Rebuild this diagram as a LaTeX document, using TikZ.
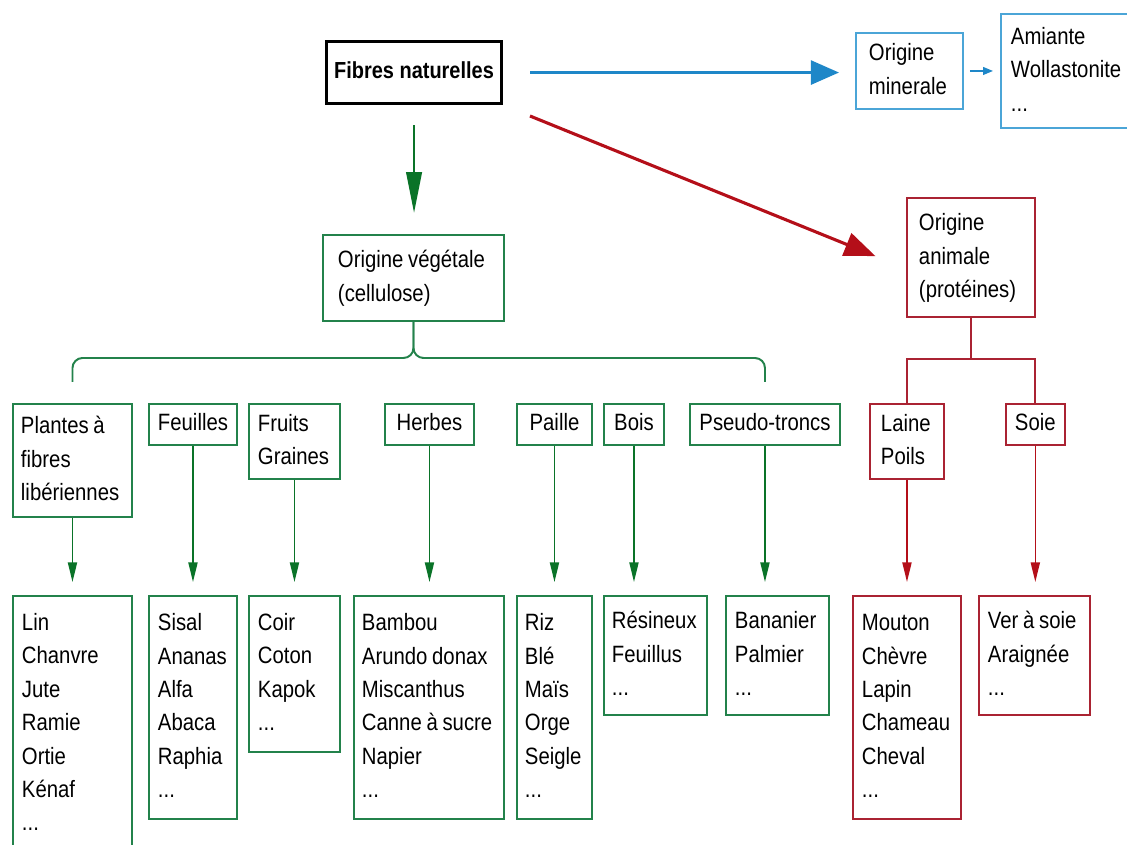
\documentclass[tikz,border=0pt]{standalone}
\usepackage{fontspec}
\setmainfont{Liberation Sans}[FakeStretch=0.86]
\usepackage{tikz}
\usetikzlibrary{arrows.meta,positioning}

\newlength{\pxu}
\setlength{\pxu}{0.025cm}
\newcommand{\boxlist}[1]{\spaceskip=0.2em\relax\begin{tabular}{@{}l@{}}#1\end{tabular}}

\definecolor{boxgreen}{RGB}{35,130,75}
\definecolor{arrgreen}{RGB}{10,115,40}
\definecolor{boxred}{RGB}{170,35,50}
\definecolor{arrred}{RGB}{180,15,25}
\definecolor{boxblue}{RGB}{75,165,215}
\definecolor{arrblue}{RGB}{30,135,200}

\tikzset{
  box/.style={draw, rectangle, anchor=north west, align=left, inner xsep=9\pxu, inner ysep=0pt, line width=1.4pt},
  tw/.style 2 args={text width=#1\pxu, minimum height=#2\pxu},
  cw/.style 2 args={minimum width=#1\pxu, minimum height=#2\pxu, align=center, text height=12.5pt, text depth=3.5pt},
  gbox/.style={box, draw=boxgreen},
  rbox/.style={box, draw=boxred},
  bbox/.style={box, draw=boxblue},
  gline/.style={draw=boxgreen, line width=1.4pt},
  rline/.style={draw=boxred, line width=1.4pt},
  garrow/.style={draw=arrgreen, line width=1.1pt, -{Triangle[length=14pt,width=6.5pt]}, shorten >=13\pxu},
  rarrow/.style={draw=arrred, line width=1.1pt, -{Triangle[length=14pt,width=6.5pt]}, shorten >=13\pxu}
}

\begin{document}
\begin{tikzpicture}[x=0.025cm, y=-0.025cm, font=\fontsize{16.8}{23.74}\selectfont]
    \useasboundingbox (0,0) rectangle (1127,845);
    \clip (0,0) rectangle (1127,845);

    % Root and origins
    \node[box, cw={175}{62}, inner xsep=4\pxu, line width=2.2pt, font=\fontsize{16.5}{23.74}\selectfont\bfseries] (fibres) at (325,40) {Fibres naturelles};
    \node[bbox, tw={81}{76}, inner xsep=13\pxu] (mineral) at (855,32) {\boxlist{Origine\\minerale}};
    \node[bbox, tw={130}{114}, inner xsep=10\pxu] (amiante) at (1000,13) {\boxlist{Amiante\\Wollastonite\\...}};
    \node[gbox, tw={151}{86}, inner xsep=15\pxu] (vege) at (322,234) {\boxlist{Origine végétale\\(cellulose)}};
    \node[rbox, tw={104}{119}, inner xsep=12\pxu] (animal) at (906,197) {\boxlist{Origine\\animale\\(protéines)}};

    % Categories
    \node[gbox, tw={103}{113}, inner xsep=8\pxu] (plantes) at (12,403) {\boxlist{Plantes à\\fibres\\libériennes}};
    \node[gbox, cw={88}{41}] (feuilles) at (148,403) {Feuilles};
    \node[gbox, tw={73}{75}] (fruits) at (248,403) {\boxlist{Fruits\\Graines}};
    \node[gbox, cw={89}{41}] (herbes) at (384,403) {Herbes};
    \node[gbox, cw={75}{41}] (paille) at (516,403) {Paille};
    \node[gbox, cw={60}{41}] (bois) at (603,403) {Bois};
    \node[gbox, cw={150}{41}] (pseudo) at (689,403) {Pseudo-troncs};
    \node[rbox, tw={52}{75}, inner xsep=11\pxu] (laine) at (869,403) {\boxlist{Laine\\Poils}};
    \node[rbox, cw={57}{41}] (soie) at (1005,403) {Soie};

    % Examples
    \node[gbox, tw={101}{256}] (lin) at (12,595) {\boxlist{Lin\\Chanvre\\Jute\\Ramie\\Ortie\\Kénaf\\...}};
    \node[gbox, tw={70}{223}] (sisal) at (148,595) {\boxlist{Sisal\\Ananas\\Alfa\\Abaca\\Raphia\\...}};
    \node[gbox, tw={73}{156}] (coir) at (248,595) {\boxlist{Coir\\Coton\\Kapok\\...}};
    \node[gbox, tw={134}{223}, inner xsep=8\pxu] (bambou) at (353,595) {\boxlist{Bambou\\Arundo donax\\Miscanthus\\Canne à sucre\\Napier\\...}};
    \node[gbox, tw={59}{223}, inner xsep=8\pxu] (riz) at (516,595) {\boxlist{Riz\\Blé\\Maïs\\Orge\\Seigle\\...}};
    \node[gbox, tw={87}{119}, inner xsep=8\pxu] (resineux) at (603,595) {\boxlist{Résineux\\Feuillus\\...}};
    \node[gbox, tw={85}{119}] (bananier) at (725,595) {\boxlist{Bananier\\Palmier\\...}};
    \node[rbox, tw={90}{223}] (mouton) at (852,595) {\boxlist{Mouton\\Chèvre\\Lapin\\Chameau\\Cheval\\...}};
    \node[rbox, tw={93}{119}] (ver) at (978,595) {\boxlist{Ver à soie\\Araignée\\...}};

    % Main arrows
    \draw[arrblue, line width=2.2pt, -{Triangle[length=20pt,width=17pt]}, shorten <=27\pxu, shorten >=16\pxu] (fibres.east) -- (fibres.east -| mineral.west);
    \draw[arrblue, line width=1.1pt, -{Triangle[length=7pt,width=5.5pt]}, shorten <=6\pxu, shorten >=7\pxu] (mineral.east) -- (mineral.east -| amiante.west);
    \draw[arrgreen, line width=1.8pt, -{Triangle[length=29pt,width=11pt]}, shorten <=20\pxu, shorten >=21\pxu] (fibres.south) -- (fibres.south |- vege.north);
    \draw[arrred, line width=2.2pt, -{Triangle[length=22pt,width=17pt]}, shorten <=29\pxu, shorten >=33\pxu] (fibres.south east) -- ([yshift=-11\pxu]animal.west);

    % Brace under vegetal origin
    \coordinate (vsplit) at (0,358);
    \coordinate (vend) at (0,382);
    \draw[gline, rounded corners=10\pxu] (vege.south) -- (vege.south |- vsplit) -- (plantes.north |- vsplit) -- (plantes.north |- vend);
    \draw[gline, rounded corners=10\pxu] (vege.south) -- (vege.south |- vsplit) -- (pseudo.north |- vsplit) -- (pseudo.north |- vend);

    % Split under animal origin
    \coordinate (asplit) at (0,359);
    \draw[rline] (animal.south) -- (animal.south |- asplit);
    \draw[rline] (laine.north) -- (laine.north |- asplit) -- (soie.north |- asplit) -- (soie.north);

    % Category to examples
    \draw[garrow] (plantes.south) -- (plantes.south |- lin.north);
    \draw[garrow] (feuilles.south) -- (feuilles.south |- sisal.north);
    \draw[garrow] (fruits.south) -- (fruits.south |- coir.north);
    \draw[garrow] (herbes.south) -- (herbes.south |- bambou.north);
    \draw[garrow] (paille.south) -- (paille.south |- riz.north);
    \draw[garrow] (bois.south) -- (bois.south |- resineux.north);
    \draw[garrow] (pseudo.south) -- (pseudo.south |- bananier.north);
    \draw[rarrow] (laine.south) -- (laine.south |- mouton.north);
    \draw[rarrow] (soie.south) -- (soie.south |- ver.north);
\end{tikzpicture}
\end{document}
